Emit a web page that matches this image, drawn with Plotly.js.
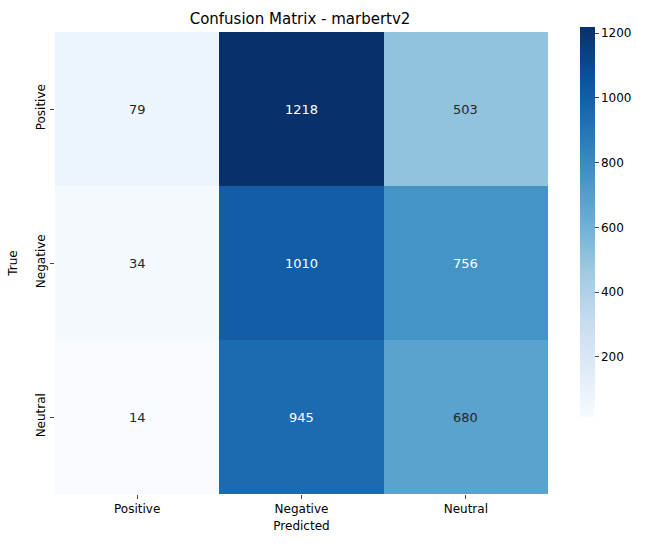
<!DOCTYPE html>
<html>
<head>
<meta charset="utf-8">
<script src="https://cdn.plot.ly/plotly-3.0.1.min.js"></script>
<style>body{margin:0;background:#fff}#chart{width:658px;height:547px}</style>
</head>
<body>
<div id="chart"></div>
<script>
var predicted = ["Positive", "Negative", "Neutral"];
var actual = ["Positive", "Negative", "Neutral"];
var counts = [
  [79, 1218, 503],
  [34, 1010, 756],
  [14, 945, 680]
];

var blues = [
  [0, "#f7fbff"], [0.125, "#deebf7"], [0.25, "#c6dbef"], [0.375, "#9ecae1"],
  [0.5, "#6baed6"], [0.625, "#4292c6"], [0.75, "#2171b5"], [0.875, "#08519c"], [1, "#08306b"]
];

var zmin = 14, zmax = 1218;
var annotations = [];
for (var i = 0; i < actual.length; i++) {
  for (var j = 0; j < predicted.length; j++) {
    var v = counts[i][j];
    annotations.push({
      x: predicted[j], y: actual[i], text: String(v), showarrow: false,
      font: {family: "DejaVu Sans", size: 13, color: (v - zmin) / (zmax - zmin) > 0.6 ? "#ffffff" : "#262626"}
    });
  }
}

Plotly.newPlot("chart", [{
  type: "heatmap",
  x: predicted, y: actual, z: counts,
  colorscale: blues, zmin: zmin, zmax: zmax,
  colorbar: {
    xref: "container", yref: "container",
    x: 0.881, xanchor: "left", y: 0.519, yanchor: "middle", len: 0.845, thickness: 15,
    xpad: 0, ypad: 0,
    outlinewidth: 0, tickvals: [200, 400, 600, 800, 1000, 1200],
    ticks: "outside", ticklen: 4,
    tickfont: {family: "DejaVu Sans", size: 12, color: "#000"}
  }
}], {
  width: 658, height: 547,
  margin: {l: 55, r: 110, t: 32, b: 53, autoexpand: false},
  paper_bgcolor: "#fff", plot_bgcolor: "#fff",
  title: {text: "Confusion Matrix - marbertv2", x: 0.456, xanchor: "center", y: 0.975,
    font: {family: "DejaVu Sans", size: 15, color: "#000"}},
  xaxis: {title: {text: "Predicted", standoff: 6, font: {family: "DejaVu Sans", size: 12, color: "#000"}},
    ticks: "outside", ticklen: 4, tickfont: {family: "DejaVu Sans", size: 12, color: "#000"}, showgrid: false, zeroline: false},
  yaxis: {title: {text: "True", standoff: 14, font: {family: "DejaVu Sans", size: 12, color: "#000"}},
    autorange: "reversed", tickangle: -90, ticks: "outside", ticklen: 4,
    tickfont: {family: "DejaVu Sans", size: 12, color: "#000"}, showgrid: false, zeroline: false},
  annotations: annotations
}, {displayModeBar: false});
</script>
</body>
</html>
